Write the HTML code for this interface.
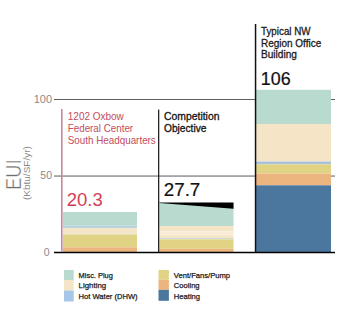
<!DOCTYPE html>
<html><head><meta charset="utf-8">
<style>
html,body{margin:0;padding:0;background:#fff;}
svg{display:block;}
text{font-family:"Liberation Sans",sans-serif;}
</style></head>
<body>
<svg width="362" height="321" viewBox="0 0 362 321">
<!-- gridlines -->
<rect x="54" y="99" width="281" height="1" fill="#606060"/>
<rect x="54" y="175.5" width="281" height="1.1" fill="#6a6a6a"/>
<!-- bar1 -->
<rect x="63" y="212" width="74" height="13.5" fill="#b8dacf"/>
<rect x="63" y="225.5" width="74" height="2.7" fill="#b6d4da"/>
<rect x="63" y="228.2" width="74" height="5.3" fill="#f5e5c6"/>
<rect x="63" y="233.5" width="74" height="1" fill="#e4e2c8"/>
<rect x="63" y="234.5" width="74" height="12.8" fill="#e0d484"/>
<rect x="63" y="247.3" width="74" height="4.7" fill="#ecb47e"/>
<!-- bar2 -->
<polygon points="159.3,203 233.5,203 233.5,226 159.3,226" fill="#b8dacf"/>
<polygon points="159.3,202.5 233.5,202.5 233.5,208.7 159.3,203" fill="#000"/>
<rect x="159.3" y="226" width="74.2" height="5.4" fill="#f5e5c6"/>
<rect x="159.3" y="231.4" width="74.2" height="3.8" fill="#f8ecd6"/>
<rect x="159.3" y="235.2" width="74.2" height="2.8" fill="#f5e5c6"/>
<rect x="159.3" y="238" width="74.2" height="1.3" fill="#d0dcd8"/>
<rect x="159.3" y="239.3" width="74.2" height="9.5" fill="#e0d484"/>
<rect x="159.3" y="248.8" width="74.2" height="3.2" fill="#ecb47e"/>
<!-- bar3 -->
<rect x="256" y="89.8" width="75" height="34.2" fill="#b8dacf"/>
<rect x="256" y="124" width="75" height="37.5" fill="#f5e5c6"/>
<rect x="256" y="161.5" width="75" height="2.8" fill="#a9c2dc"/>
<rect x="256" y="164.3" width="75" height="9.3" fill="#e0d484"/>
<rect x="256" y="173.6" width="75" height="11.7" fill="#ecb47e"/>
<rect x="256" y="185.3" width="75" height="66.7" fill="#4b779f"/>
<!-- baseline -->
<rect x="54" y="251.75" width="281" height="1.5" fill="#000"/>
<!-- vertical lines -->
<rect x="61" y="109" width="1.6" height="143" fill="#c48a92"/>
<rect x="158" y="109.6" width="1.3" height="142.4" fill="#262626"/>
<rect x="254.8" y="24" width="1.5" height="228" fill="#111"/>
<!-- axis labels -->
<g fill="#8a8a8a" font-size="10.5">
<text x="52" y="102.6" text-anchor="end" textLength="18.3" lengthAdjust="spacingAndGlyphs">100</text>
<text x="52" y="179.2" text-anchor="end">50</text>
<text x="49.6" y="255.6" text-anchor="end">0</text>
</g>
<text transform="translate(21,190) rotate(-90)" font-size="22" fill="#6e6e6e" stroke="#fff" stroke-width="0.45" textLength="30.5" lengthAdjust="spacingAndGlyphs">EUI</text>
<text transform="translate(30.4,200) rotate(-90)" font-size="8.6" fill="#8a8a8a" textLength="53.8" lengthAdjust="spacingAndGlyphs">(Kbtu/SF/yr)</text>
<!-- labels -->
<g fill="#c24c5d" font-size="10.6">
<text x="67.8" y="119.6" textLength="56" lengthAdjust="spacingAndGlyphs">1202 Oxbow</text>
<text x="67.8" y="131.6" textLength="65.3" lengthAdjust="spacingAndGlyphs">Federal Center</text>
<text x="67.8" y="143.6" textLength="88" lengthAdjust="spacingAndGlyphs">South Headquarters</text>
</g>
<g fill="#111" font-size="10.8" stroke="#111" stroke-width="0.3">
<text x="164" y="120" textLength="55.5" lengthAdjust="spacingAndGlyphs">Competition</text>
<text x="164" y="132" textLength="42.4" lengthAdjust="spacingAndGlyphs">Objective</text>
</g>
<g fill="#1a1a1a" font-size="10.8" stroke="#1a1a1a" stroke-width="0.3">
<text x="261" y="35.2" textLength="49.6" lengthAdjust="spacingAndGlyphs">Typical NW</text>
<text x="261" y="46.8" textLength="60.2" lengthAdjust="spacingAndGlyphs">Region Office</text>
<text x="261" y="58.2" textLength="36" lengthAdjust="spacingAndGlyphs">Building</text>
</g>
<text x="66.8" y="205.8" font-size="17.6" fill="#d43e55" textLength="36" lengthAdjust="spacingAndGlyphs">20.3</text>
<text x="163.8" y="195.8" font-size="17.5" fill="#111" stroke="#111" stroke-width="0.2" textLength="36.5" lengthAdjust="spacingAndGlyphs">27.7</text>
<text x="260.8" y="84.9" font-size="17.5" fill="#111" stroke="#111" stroke-width="0.2" textLength="29.8" lengthAdjust="spacingAndGlyphs">106</text>
<!-- legend -->
<rect x="64" y="270" width="9.7" height="10" fill="#b8dacf"/>
<rect x="64" y="280" width="9.7" height="10.5" fill="#f5e5c6"/>
<rect x="64" y="290.5" width="9.7" height="11" fill="#a8c7e8"/>
<rect x="158.5" y="270" width="10.4" height="9.8" fill="#e0d484"/>
<rect x="158.5" y="279.8" width="10.4" height="10.1" fill="#ecb47e"/>
<rect x="158.5" y="289.9" width="10.4" height="10.9" fill="#4b779f"/>
<g fill="#1a1a1a" font-size="7.8" stroke="#1a1a1a" stroke-width="0.25">
<text x="78.6" y="278.1" textLength="34.3" lengthAdjust="spacingAndGlyphs">Misc. Plug</text>
<text x="78.6" y="288.3" textLength="27.6" lengthAdjust="spacingAndGlyphs">Lighting</text>
<text x="78.6" y="298.9" textLength="59" lengthAdjust="spacingAndGlyphs">Hot Water (DHW)</text>
<text x="173.8" y="278.1" textLength="56.3" lengthAdjust="spacingAndGlyphs">Vent/Fans/Pump</text>
<text x="173.8" y="288.3" textLength="25.8" lengthAdjust="spacingAndGlyphs">Cooling</text>
<text x="173.8" y="298.6" textLength="26.3" lengthAdjust="spacingAndGlyphs">Heating</text>
</g>
</svg>
</body></html>
